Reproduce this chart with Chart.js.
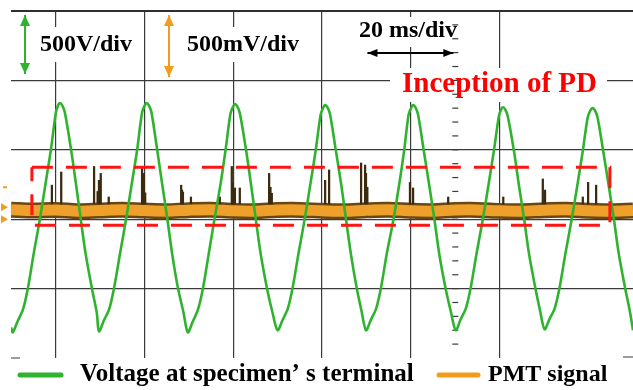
<!DOCTYPE html>
<html>
<head>
<meta charset="utf-8">
<script src="https://cdn.jsdelivr.net/npm/chart.js@4/dist/chart.umd.min.js"></script>
<style>
  html, body { margin: 0; padding: 0; background: #fff; }
  #wrap { width: 633px; height: 390px; }
</style>
</head>
<body>
<div id="wrap"><canvas id="scope"></canvas></div>
<script>
// time axis in ms (20 ms/div), green trace in V (500 V/div), PMT in mV (500 mV/div)
const voltTime = [
  0, 0.4, 1.5, 2.7, 3.8, 5.1, 6.5, 7.8, 9.0, 10.1, 10.6, 11.0, 11.5, 12.1, 13.5, 14.6, 15.7, 16.8, 18.2, 19.3,
  19.8, 20.9, 22.1, 23.2, 24.5, 25.9, 27.2, 28.4, 29.5, 30.1, 30.5, 31.0, 31.6, 32.9, 34.0, 35.2, 36.3, 37.6, 38.8,
  39.8, 40.9, 42.1, 43.2, 44.5, 45.8, 47.2, 48.3, 49.4, 50.0, 50.4, 50.9, 51.5, 52.9, 54.0, 55.1, 56.2, 57.6, 58.8,
  60.0, 61.1, 62.3, 63.4, 64.7, 66.1, 67.4, 68.6, 69.7, 70.3, 70.7, 71.2, 71.8, 73.1, 74.3, 75.4, 76.5, 77.8, 78.9,
  79.9, 81.0, 82.2, 83.3, 84.6, 86.1, 87.4, 88.5, 89.5, 90.1, 90.5, 91.0, 91.6, 92.9, 94.1, 95.3, 96.4, 97.8, 99.0,
  100.1, 101.2, 102.4, 103.5, 104.8, 106.2, 107.5, 108.7, 109.8, 110.3, 110.7, 111.2, 111.8, 113.2, 114.3, 115.5, 116.6, 118.0, 119.1,
  120.1, 121.2, 122.4, 123.5, 124.8, 126.2, 127.5, 128.7, 129.8, 130.4, 130.9, 131.4, 132.0, 133.3, 134.5, 135.7, 136.8, 138.2, 139.3, 140.0
];
const voltValue = [
  -780, -815, -735, -650, -497, -250, 0, 262, 505, 769, 820, 836, 822, 772, 505, 260, 0, -250, -497, -672,
  -808, -730, -648, -495, -255, 0, 258, 502, 769, 820, 836, 822, 772, 500, 258, 0, -255, -500, -668,
  -815, -738, -650, -500, -250, 0, 260, 500, 762, 812, 829, 815, 765, 500, 255, 0, -250, -495, -665,
  -800, -728, -645, -492, -248, 0, 256, 500, 755, 805, 822, 808, 758, 498, 255, 0, -250, -494, -662,
  -800, -725, -642, -490, -245, 0, 255, 498, 755, 805, 822, 808, 758, 495, 252, 0, -252, -495, -665,
  -800, -722, -640, -488, -245, 0, 252, 495, 740, 790, 807, 793, 743, 492, 250, 0, -250, -492, -662,
  -793, -720, -640, -488, -245, 0, 250, 492, 733, 783, 800, 786, 736, 490, 248, 0, -250, -492, -665, -800
];

const pmtTime = [0, 5, 10, 15, 20, 25, 30, 35, 40, 45, 50, 55, 60, 65, 70, 75, 80, 85, 90, 95, 100, 105, 110, 115, 120, 125, 130, 135, 140];
const pmtLevel = [68, 62, 66, 58, 63, 68, 62, 58, 65, 68, 60, 58, 66, 67, 61, 57, 64, 68, 61, 58, 66, 67, 60, 58, 65, 68, 61, 58, 63];

const spikeTime = [9.2, 11.3, 18.7, 19.5, 19.8, 20.2, 22.0, 29.5, 29.7, 29.9, 30.2, 38.3, 38.5, 38.7, 40.5, 47.0, 49.7, 49.9, 50.4, 51.5,
  58.1, 58.4, 58.7, 70.7, 71.6, 78.8, 79.7, 79.9, 80.2, 89.8, 90.5, 98.4, 110.8, 119.7, 120.2, 128.7, 129.9, 131.7];
const spikeTop = [245, 340, 380, 200, 280, 330, 160, 365, 230, 330, 190, 245, 210, 195, 160, 160, 380, 260, 225, 225,
  330, 230, 187, 280, 355, 405, 390, 330, 230, 265, 225, 160, 160, 290, 210, 160, 265, 245];
const spikeBase = 110;

const pdBoxTime = [4.7, 134.8, 134.8, 4.7, 4.7];
const pdBoxVolt = [375, 375, -43, -43, 375];

const pmtMarkers = [86, 0];
const pmtTrigger = 230;

const seriesNames = ["Voltage at specimen\u2019 s terminal", "PMT signal"];
const GREEN = "#2fb32f";
const ORANGE = "#f39c1c";
const GRID = "#3a3a3a";

function pairs(xs, ys) {
  return xs.map((x, i) => ({ x: x, y: ys[i] }));
}

function arrow(ctx, x1, y1, x2, y2, color, len, half) {
  const a = Math.atan2(y2 - y1, x2 - x1);
  ctx.strokeStyle = color;
  ctx.fillStyle = color;
  ctx.lineWidth = 2;
  ctx.beginPath();
  ctx.moveTo(x1, y1);
  ctx.lineTo(x2, y2);
  ctx.stroke();
  [[x1, y1, a + Math.PI], [x2, y2, a]].forEach(([px, py, ang]) => {
    ctx.beginPath();
    ctx.moveTo(px, py);
    ctx.lineTo(px - len * Math.cos(ang) + half * Math.sin(ang), py - len * Math.sin(ang) - half * Math.cos(ang));
    ctx.lineTo(px - len * Math.cos(ang) - half * Math.sin(ang), py - len * Math.sin(ang) + half * Math.cos(ang));
    ctx.closePath();
    ctx.fill();
  });
}

// scale notes, arrows, scope markers and the bottom legend
const scopeNotes = {
  id: "scopeNotes",
  beforeDatasetsDraw(chart) {
    const { ctx, scales } = chart;
    const x = scales.x, y = scales.y, y2 = scales.y2;
    ctx.save();

    // short stubs of the bottom graticule line
    ctx.strokeStyle = GRID;
    ctx.lineWidth = 1.2;
    const by = y.getPixelForValue(-1000);
    ctx.beginPath();
    ctx.moveTo(x.left, by); ctx.lineTo(x.left + 9, by);
    ctx.moveTo(x.right - 10, by - 1); ctx.lineTo(x.right, by - 1);
    ctx.stroke();

    ctx.fillStyle = "#fff";
    ctx.fillRect(38, 27, 97, 35);
    ctx.fillRect(185, 27, 114, 35);
    ctx.fillRect(357, 17, 102, 30);
    ctx.fillRect(390, 68, 217, 34);

    // minor ticks on the 100 ms line
    const cx = x.getPixelForValue(100);
    for (let v = -900; v < 1500; v += 100) {
      const py = y.getPixelForValue(v);
      ctx.beginPath();
      ctx.moveTo(cx - 3, py);
      ctx.lineTo(cx + 3, py);
      ctx.stroke();
    }

    arrow(ctx, 25, 15, 25, 74, GREEN, 11, 5);
    arrow(ctx, 169, 15, 169, 77, ORANGE, 11, 5);
    arrow(ctx, x.getPixelForValue(80) + 1, 53, x.getPixelForValue(100) - 2, 53, "#000", 10, 4);

    ctx.fillStyle = "#000";
    ctx.textBaseline = "middle";
    ctx.font = "bold 24px 'Liberation Serif'";
    ctx.fillText("500V/div", 40, 45);
    ctx.fillText("500mV/div", 187, 45);
    ctx.fillText("20 ms/div", 359, 31);
    ctx.fillStyle = "#ff0000";
    ctx.font = "bold 29px 'Liberation Serif'";
    ctx.fillText("Inception of PD", 402, 85);

    ctx.fillStyle = ORANGE;
    pmtMarkers.forEach(m => {
      const py = y2.getPixelForValue(m);
      ctx.beginPath();
      ctx.moveTo(1, py - 4);
      ctx.lineTo(8, py);
      ctx.lineTo(1, py + 4);
      ctx.closePath();
      ctx.fill();
    });
    ctx.fillRect(3, y2.getPixelForValue(pmtTrigger) - 1, 4, 2);
    ctx.restore();
  },
  afterDraw(chart) {
    const { ctx, chartArea } = chart;
    ctx.save();
    // top edge of the graticule
    ctx.fillStyle = "#2e2e2e";
    ctx.fillRect(Math.round(chartArea.left), Math.round(chartArea.top) - 1, Math.round(chartArea.right - chartArea.left), 2);

    const ly = 375;
    ctx.lineCap = "round";
    ctx.lineWidth = 5;
    [[20, 61, GREEN], [439, 478, ORANGE]].forEach(([a, b, c]) => {
      ctx.strokeStyle = c;
      ctx.beginPath();
      ctx.moveTo(a, ly);
      ctx.lineTo(b, ly);
      ctx.stroke();
    });
    ctx.fillStyle = "#000";
    ctx.textBaseline = "middle";
    ctx.font = "bold 25px 'Liberation Serif'";
    ctx.fillText(seriesNames[0], 80, ly);
    ctx.font = "bold 24px 'Liberation Serif'";
    ctx.fillText(seriesNames[1], 488, ly);
    ctx.restore();
  }
};

const ctx = document.getElementById("scope").getContext("2d");
new Chart(ctx, {
  type: "line",
  data: {
    datasets: [
      {
        label: "PD region",
        data: pairs(pdBoxTime, pdBoxVolt),
        borderColor: "#ff1414",
        borderWidth: 3,
        borderDash: [21, 13],
        pointRadius: 0,
        tension: 0
      },
      {
        label: seriesNames[0],
        data: pairs(voltTime, voltValue),
        borderColor: GREEN,
        borderWidth: 2.6,
        pointRadius: 0,
        tension: 0.3
      },
      {
        type: "bar",
        label: "spikes",
        yAxisID: "y2",
        data: spikeTime.map((t, i) => ({ x: t, y: [spikeBase, spikeTop[i]] })),
        backgroundColor: "#3b2a0e",
        barThickness: 1.6,
        grouped: false
      },
      {
        label: seriesNames[1],
        yAxisID: "y2",
        data: pairs(pmtTime, pmtLevel),
        borderColor: "#eea02a",
        borderWidth: 11,
        pointRadius: 0,
        tension: 0.3
      },
      {
        label: "PMT edge",
        yAxisID: "y2",
        data: pairs(pmtTime, pmtLevel),
        borderColor: "#6a4712",
        borderWidth: 16,
        pointRadius: 0,
        tension: 0.3
      }
    ]
  },
  options: {
    responsive: true,
    maintainAspectRatio: false,
    animation: false,
    layout: { autoPadding: false, padding: { left: 11, top: 11, right: 0, bottom: 32 } },
    plugins: {
      tooltip: { enabled: false },
      legend: { display: false }
    },
    scales: {
      x: {
        type: "linear",
        min: 0,
        max: 140,
        offset: false,
        ticks: { display: false, stepSize: 20 },
        grid: {
          drawTicks: false,
          lineWidth: 1.2,
          color: c => (c.tick && c.tick.value === 140 ? "rgba(0,0,0,0)" : GRID)
        },
        border: { display: false }
      },
      y: {
        min: -1000,
        max: 1500,
        ticks: { display: false, stepSize: 500 },
        grid: {
          drawTicks: false,
          lineWidth: 1.2,
          color: c => (c.tick && c.tick.value === -1000 ? "rgba(0,0,0,0)" : GRID)
        },
        border: { display: false }
      },
      y2: { display: false, min: -1000, max: 1500 }
    }
  },
  plugins: [scopeNotes]
});
</script>
</body>
</html>
